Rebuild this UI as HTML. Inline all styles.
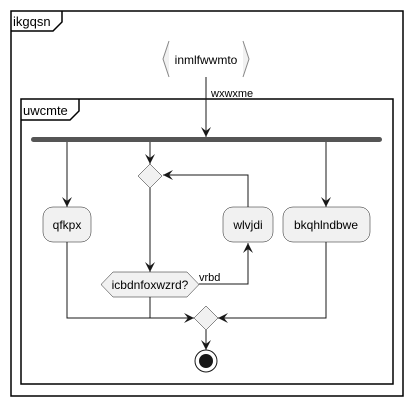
<!DOCTYPE html>
<html><head><style>body{margin:0;background:#fff}svg{display:block}</style></head><body>
<svg width="412" height="406" xmlns="http://www.w3.org/2000/svg" font-family="Liberation Sans, sans-serif" font-size="12">
<defs><marker id="a" viewBox="0 0 10 10" refX="10" refY="5" markerWidth="10" markerHeight="10" orient="auto" markerUnits="userSpaceOnUse"><path d="M0,0 L10,5 L0,10 L4,5 Z" fill="#181818"/></marker></defs>
<rect x="11" y="11" width="392" height="385" fill="none" stroke="#000" stroke-width="1.5"/>
<path d="M11,31 H53 L62,22 V11" fill="none" stroke="#000" stroke-width="1.5"/>
<text x="13" y="26" font-size="13">ikgqsn</text>
<rect x="21" y="99" width="372" height="285" fill="none" stroke="#000" stroke-width="1.5"/>
<path d="M21,120 H70 L79,111 V99" fill="none" stroke="#000" stroke-width="1.5"/>
<text x="23" y="115" font-size="13">uwcmte</text>
<path d="M169,41 L163,59 L169,77 M243,41 L249,59 L243,77" fill="#f1f1f1" stroke="#888"/>
<text x="206" y="64" text-anchor="middle">inmlfwwmto</text>
<g stroke="#181818" fill="none">
<line x1="206" y1="77" x2="206" y2="137" marker-end="url(#a)"/>
<line x1="67" y1="142" x2="67" y2="207" marker-end="url(#a)"/>
<line x1="150" y1="142" x2="150" y2="164" marker-end="url(#a)"/>
<line x1="326" y1="142" x2="326" y2="207" marker-end="url(#a)"/>
<line x1="150" y1="188" x2="150" y2="272" marker-end="url(#a)"/>
<polyline points="199,284 248,284 248,243" marker-end="url(#a)"/>
<polyline points="248,207 248,175 163,175" marker-end="url(#a)"/>
<polyline points="67,242 67,318 194,318" marker-end="url(#a)"/>
<line x1="150" y1="297" x2="150" y2="318"/>
<polyline points="326,242 326,318 218,318" marker-end="url(#a)"/>
<line x1="206" y1="330" x2="206" y2="350" marker-end="url(#a)"/>
</g>
<text x="211" y="97" font-size="11">wxwxme</text>
<rect x="31" y="137" width="351" height="5" rx="2.5" fill="#555"/>
<polygon points="150,164 162,176 150,188 138,176" fill="#f1f1f1" stroke="#181818" stroke-width="0.5"/>
<g fill="#f1f1f1" stroke="#181818" stroke-width="0.5">
<rect x="43" y="207" width="48" height="35" rx="10"/>
<rect x="223" y="207" width="50" height="35" rx="10"/>
<rect x="283" y="207" width="87" height="35" rx="10"/>
<polygon points="101,284.5 113,272 187,272 199,284.5 187,297 113,297"/>
<polygon points="206,306 218,318 206,330 194,318"/>
</g>
<text x="67" y="229" text-anchor="middle">qfkpx</text>
<text x="248" y="229" text-anchor="middle">wlvjdi</text>
<text x="326" y="229" text-anchor="middle">bkqhlndbwe</text>
<text x="150" y="289" text-anchor="middle">icbdnfoxwzrd?</text>
<text x="199" y="281" font-size="11">vrbd</text>
<circle cx="206" cy="361" r="11" fill="#fff" stroke="#181818"/>
<circle cx="206" cy="361" r="7" fill="#181818"/>
</svg>
</body></html>
